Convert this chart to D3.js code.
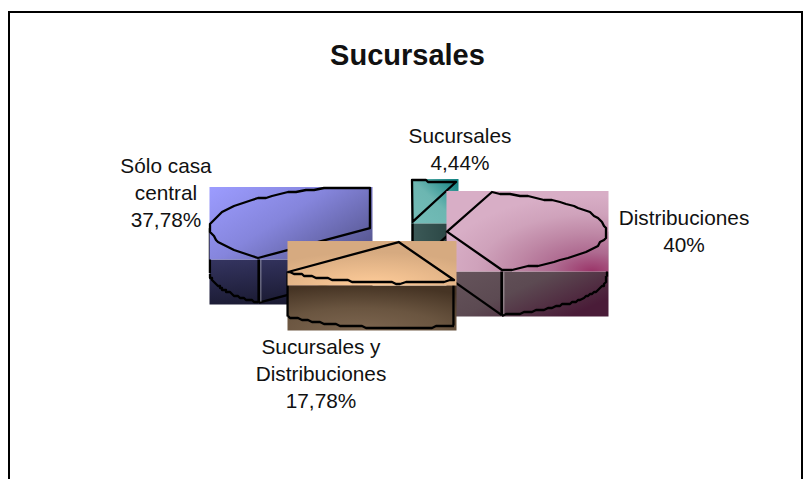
<!DOCTYPE html>
<html><head><meta charset="utf-8"><script src="https://cdn.jsdelivr.net/npm/d3@7"></script>
<style>html,body{margin:0;background:#fff}svg{display:block}text{font-family:"Liberation Sans",Arial,sans-serif;fill:#111}</style></head>
<body><svg id="c" width="804" height="479"></svg>
<script>
const categories=["Sucursales","Distribuciones","Sucursales y Distribuciones","Sólo casa central"];
const values=[4.44,40,17.78,37.78];
const labelLines=[["Sucursales","4,44%"],["Distribuciones","40%"],["Sucursales y","Distribuciones","17,78%"],["Sólo casa","central","37,78%"]];
const labelAnchors=[[460,143],[684,225],[321,354],[166,173]];

const svg=d3.select("#c"),defs=svg.append("defs");
const cx=407,cy=232,rx=160,ry=41,depth=45,explode=40;
const pie=d3.pie().sort(null)(values);
const px=d3.scaleLinear().domain([-1,1]).range([-rx,rx]);
const py=d3.scaleLinear().domain([-1,1]).range([-ry,ry]);
const pt=(a,ax,ay)=>[ax+px(Math.sin(a)),ay+py(-Math.cos(a))];
const arcPts=(a0,a1,ax,ay)=>d3.range(0,41).map(i=>{const a=a0+(a1-a0)*i/40,p=pt(a,ax,ay);return [Math.round(p[0]/2)*2,Math.round(p[1]/2)*2]});
const line=d3.line();
function lin(id,stops,x1,y1,x2,y2){const g=defs.append("linearGradient").attr("id",id).attr("x1",x1).attr("y1",y1).attr("x2",x2).attr("y2",y2);
 stops.forEach((c,i)=>g.append("stop").attr("offset",i/(stops.length-1)).attr("stop-color",c));}
function rad(id,stops,x,y,r){const g=defs.append("radialGradient").attr("id",id).attr("cx",x).attr("cy",y).attr("r",r);
 stops.forEach((c,i)=>g.append("stop").attr("offset",i/(stops.length-1)).attr("stop-color",c));}
lin("t0",["#74bdb8","#6cb6b1","#0e8080"],0,1,1,0);
lin("s0",["#3c5a58","#274240"],0,0,1,0);
rad("t1",["#9a3468","#ae6a90","#bf88a6","#cfa2bb","#d8aec6"],.9,1,.95);
lin("s1",["#66555c","#5c4a52","#4a1c38"],0,0,1,.6);
rad("t2",["#ffcc99","#d6aa80"],.5,1,.75);
rad("s2",["#7d6650","#6a5540","#463424"],.42,1,1);
lin("t3",["#9c9cff","#8585dc","#5a5a96"],0,0,1,.7);
lin("s3",["#33335e","#191930"],.2,0,.5,1);
[0,1,3,2].forEach(i=>{
 const d=pie[i],mid=(d.startAngle+d.endAngle)/2;
 const apx=cx+px(Math.sin(mid))*explode/rx, apy=cy+py(-Math.cos(mid))*explode/rx;
 const pts=arcPts(d.startAngle,d.endAngle,apx,apy);
 const all=[[apx,apy],...pts];
 const x0=d3.min(all,p=>p[0])-.5,x1=d3.max(all,p=>p[0])+2.5,y0=d3.min(all,p=>p[1])-1,y1=d3.max(all,p=>p[1])+1.5;
 const g=svg.append("g");
 g.append("rect").attr("x",x0).attr("y",y1).attr("width",x1-x0).attr("height",depth).attr("fill",`url(#s${i})`);
 const stroke=s=>s.attr("fill","none").attr("stroke","#000").attr("stroke-width",2.3).attr("stroke-linejoin","round");
 const f0=Math.max(d.startAngle,Math.PI/2),f1=Math.min(d.endAngle,Math.PI*1.5);
 if(f1>f0){
  stroke(g.append("path").attr("d",line(arcPts(f0,f1,apx,apy+depth))));
  [f0,f1].forEach(a=>{const p=pt(a,apx,apy);stroke(g.append("path").attr("d",line([p,[p[0],p[1]+depth]])));});
 }
 const front=[];
 if(Math.sin(d.startAngle)<-1e-6)front.push(d.startAngle);
 if(Math.sin(d.endAngle)>1e-6)front.push(d.endAngle);
 front.forEach(a=>{const p=pt(a,apx,apy);
  stroke(g.append("path").attr("d",line([[apx,apy+depth],[p[0],p[1]+depth]])));
  stroke(g.append("path").attr("d",line([[apx,apy],[apx,apy+depth]])));
  stroke(g.append("path").attr("d",line([p,[p[0],p[1]+depth]])));
  g.append("path").attr("d",line([[p[0]+2,p[1]+2],[p[0]+2,p[1]+depth-1]])).attr("stroke","#fff").attr("stroke-opacity",.3).attr("stroke-width",1.5);
 });
 g.append("rect").attr("x",x0).attr("y",y0).attr("width",x1-x0).attr("height",y1-y0).attr("fill",`url(#t${i})`);
 stroke(g.append("path").attr("d",line(all)+"Z"));
});
svg.append("path").attr("d",line([[9,479],[9,12],[802,12],[802,479]])).attr("fill","none").attr("stroke","#000").attr("stroke-width",2);
svg.append("text").attr("x",407.5).attr("y",64.5).attr("text-anchor","middle").attr("font-size",29).attr("font-weight","bold").text("Sucursales");
labelLines.forEach((ls,i)=>{
 const t=svg.append("text").attr("text-anchor","middle").attr("font-size",20.8);
 ls.forEach((s,j)=>t.append("tspan").attr("x",labelAnchors[i][0]).attr("y",labelAnchors[i][1]+j*27).text(s));
});
</script></body></html>
